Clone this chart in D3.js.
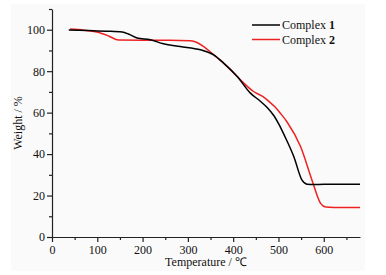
<!doctype html>
<html>
<head>
    <style>
        body { margin: 0; background: #fff; }
        svg { display: block; }
        text { font-family: 'Liberation Serif', 'Times New Roman', serif; fill: #111; }
        .axis text { font-size: 12px; font-family: 'Liberation Serif', serif; }
        .axis path, .axis line { stroke: #222; stroke-width: 1.2; }
        text.label { font-size: 12px; }
        text.legend { font-size: 12px; }
    </style>
    <script src="https://d3js.org/d3.v7.min.js"></script>
</head>
<body>
<svg width="386" height="275"></svg>
<script>
    // Complex 1 (black) - temperature (C), weight (%)
    const temp1 = [37, 80, 120, 155, 170, 188, 217, 246, 283, 328, 357, 379, 409, 438, 460, 475, 490, 502, 512, 534, 552, 563, 580, 620, 680];
    const weight1 = [99.9, 99.6, 99.3, 98.9, 97.8, 96.0, 95.2, 93.2, 91.9, 90.3, 87.9, 83.9, 77.4, 69.4, 65.5, 62.5, 58.5, 54.0, 49.5, 38.7, 27.4, 25.5, 25.3, 25.5, 25.5];
    // Complex 2 (red)
    const temp2 = [40, 70, 99, 125, 147, 200, 260, 305, 316, 335, 357, 387, 416, 445, 465, 480, 492, 505, 519, 549, 574, 593, 604, 640, 680];
    const weight2 = [100.3, 99.8, 98.9, 97.0, 95.0, 94.9, 94.9, 94.7, 94.2, 91.9, 87.9, 82.2, 75.8, 70.2, 67.8, 65.2, 62.8, 59.5, 55.5, 43.5, 27.4, 16.2, 14.5, 14.2, 14.2];
    const seriesNames = ['Complex ', 'Complex '];
    const seriesNums = ['1', '2'];
    const colors = ['#000000', '#ee2222'];
    const xTicks = [0, 100, 200, 300, 400, 500, 600];
    const yTicks = [0, 20, 40, 60, 80, 100];

    const svg = d3.select('svg');

    svg.append('rect')
        .attr('x', 11).attr('y', 4)
        .attr('width', 354).attr('height', 267)
        .attr('fill', '#fafafa');

    const margin = {left: 52, top: 9, right: 26, bottom: 38};
    const width = 386 - margin.left - margin.right;
    const height = 275 - margin.top - margin.bottom;

    const chart = svg.append('g')
        .attr('transform', `translate(${margin.left}, ${margin.top})`);

    const xScale = d3.scaleLinear().domain([0, 680]).range([0, width]);
    const yScale = d3.scaleLinear().domain([0, 110]).range([height, 0]);

    // minor ticks
    chart.append('g')
        .attr('class', 'axis')
        .attr('transform', `translate(0, ${height})`)
        .call(d3.axisBottom(xScale).tickValues(d3.range(50, 680, 100)).tickSize(3).tickFormat(''))
        .call(g => g.select('.domain').remove());
    chart.append('g')
        .attr('class', 'axis')
        .call(d3.axisLeft(yScale).tickValues(d3.range(10, 111, 20)).tickSize(3).tickFormat(''))
        .call(g => g.select('.domain').remove());

    chart.append('g')
        .attr('class', 'axis')
        .attr('transform', `translate(0, ${height})`)
        .call(d3.axisBottom(xScale).tickValues(xTicks).tickSize(5).tickSizeOuter(0).tickPadding(3));

    chart.append('g')
        .attr('class', 'axis')
        .call(d3.axisLeft(yScale).tickValues(yTicks).tickSize(5).tickSizeOuter(0).tickPadding(2));

    const line = d3.line()
        .x(d => xScale(d[0]))
        .y(d => yScale(d[1]))
        .curve(d3.curveMonotoneX);

    const series = [d3.zip(temp1, weight1), d3.zip(temp2, weight2)];

    // red drawn first, black on top
    [1, 0].forEach(i => {
        chart.append('path')
            .datum(series[i])
            .attr('fill', 'none')
            .attr('stroke', colors[i])
            .attr('stroke-width', 1.5)
            .attr('d', line);
    });

    // legend
    const legend = svg.append('g');
    seriesNums.forEach((n, i) => {
        const y = 25 + i * 14.5;
        legend.append('line')
            .attr('x1', 252).attr('x2', 280)
            .attr('y1', y).attr('y2', y)
            .attr('stroke', colors[i])
            .attr('stroke-width', 1.5);
        const t = legend.append('text')
            .attr('class', 'legend')
            .attr('x', 282)
            .attr('y', y + 4);
        t.append('tspan').text(seriesNames[i]);
        t.append('tspan').attr('font-weight', 'bold').text(n);
    });

    svg.append('text')
        .attr('class', 'label')
        .attr('transform', `translate(22, ${margin.top + yScale(55)}) rotate(-90)`)
        .attr('text-anchor', 'middle')
        .text('Weight / %');

    svg.append('text')
        .attr('class', 'label')
        .attr('x', margin.left + xScale(340))
        .attr('y', 266)
        .attr('text-anchor', 'middle')
        .text('Temperature / ℃');
</script>
</body>
</html>
